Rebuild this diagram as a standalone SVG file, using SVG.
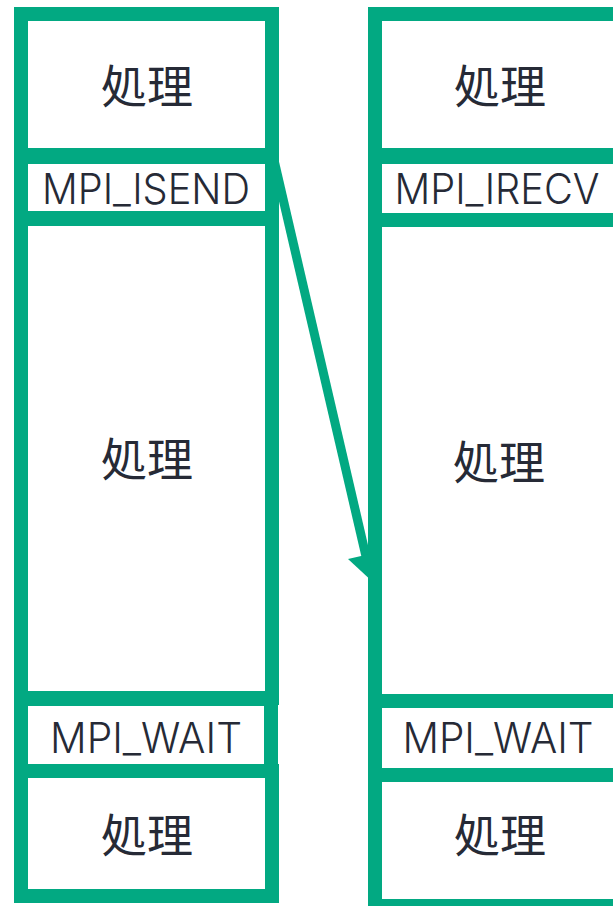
<svg xmlns="http://www.w3.org/2000/svg" width="613" height="906" viewBox="0 0 613 906">
<defs>
<style>
.box{fill:#ffffff;stroke:#02A982;stroke-width:14}
.t{font-family:"Noto Sans CJK JP","Noto Sans",sans-serif;fill:#262A36;text-anchor:middle}
.cjk{font-size:46px}
.lat{font-family:Inter,"Noto Sans",sans-serif;font-weight:300;font-size:42px}
.arrow{stroke:#02A982;stroke-width:9;fill:none}
</style>
</defs>
<rect width="613" height="906" fill="#ffffff"/>
<g id="connectors">
<line class="arrow" x1="274" y1="160" x2="368" y2="565"/>
<polygon points="375,584 348,559 383,551" fill="#02A982"/>
</g>
<g id="left-proc1"><rect class="box" x="21" y="14" width="251" height="141"/><text class="t cjk" x="147" y="103">処理</text></g>
<g id="left-isend"><rect class="box" x="21" y="157" width="251" height="61"/><text class="t lat" x="146" y="204" textLength="208" lengthAdjust="spacingAndGlyphs">MPI_ISEND</text></g>
<g id="left-proc2"><rect class="box" x="21" y="219" width="251" height="479"/><text class="t cjk" x="147" y="476">処理</text></g>
<g id="left-wait"><rect class="box" x="21" y="699" width="250" height="72"/><text class="t lat" x="146" y="753" textLength="192" lengthAdjust="spacingAndGlyphs">MPI_WAIT</text></g>
<g id="left-proc3"><rect class="box" x="21" y="771" width="251" height="125"/><text class="t cjk" x="147" y="852">処理</text></g>
<g id="right-proc1"><rect class="box" x="375" y="14" width="300" height="141"/><text class="t cjk" x="500" y="103">処理</text></g>
<g id="right-irecv"><rect class="box" x="375" y="157" width="300" height="63"/><text class="t lat" x="497" y="204" textLength="205" lengthAdjust="spacingAndGlyphs">MPI_IRECV</text></g>
<g id="right-proc2"><rect class="box" x="375" y="220" width="300" height="484"/><text class="t cjk" x="499" y="479">処理</text></g>
<g id="right-wait"><rect class="box" x="375" y="701" width="300" height="74"/><text class="t lat" x="498" y="753" textLength="191" lengthAdjust="spacingAndGlyphs">MPI_WAIT</text></g>
<g id="right-proc3"><rect class="box" x="375" y="775" width="300" height="131"/><text class="t cjk" x="500" y="852">処理</text></g>
</svg>
